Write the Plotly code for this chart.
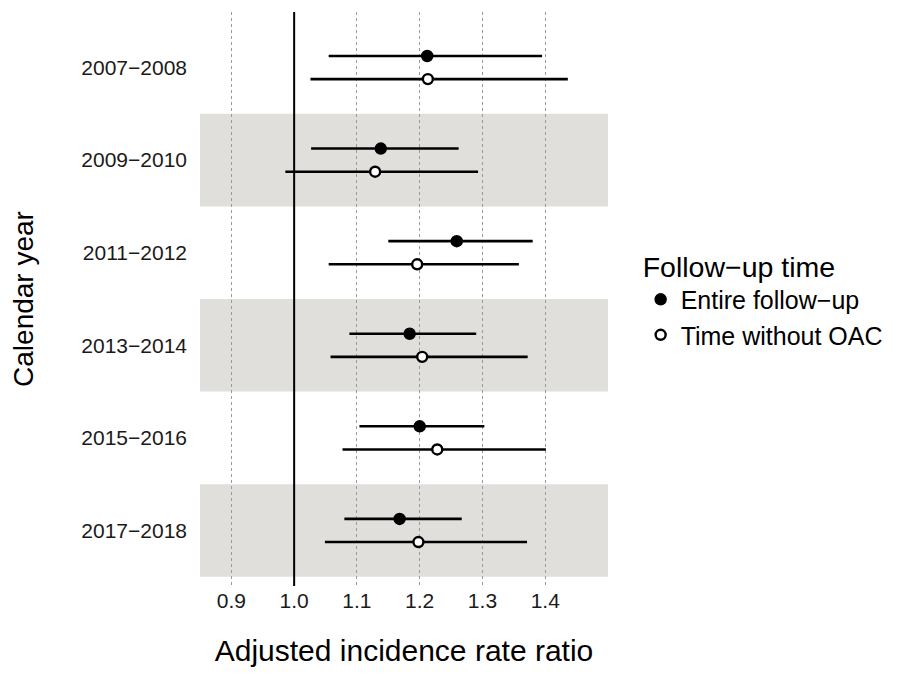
import plotly.graph_objects as go

categories = ["2007\u22122008", "2009\u22122010", "2011\u22122012",
              "2013\u22122014", "2015\u22122016", "2017\u22122018"]
series_names = ["Entire follow\u2212up", "Time without OAC"]

entire_est = [1.212, 1.138, 1.259, 1.184, 1.200, 1.168]
entire_lo = [1.055, 1.027, 1.150, 1.088, 1.104, 1.080]
entire_hi = [1.395, 1.262, 1.380, 1.290, 1.303, 1.267]

oac_est = [1.213, 1.129, 1.196, 1.204, 1.228, 1.198]
oac_lo = [1.026, 0.986, 1.055, 1.058, 1.077, 1.049]
oac_hi = [1.436, 1.293, 1.358, 1.372, 1.401, 1.371]

x_ticks = [0.9, 1.0, 1.1, 1.2, 1.3, 1.4]
x_tick_labels = ["0.9", "1.0", "1.1", "1.2", "1.3", "1.4"]
shaded_rows = ["2009\u22122010", "2013\u22122014", "2017\u22122018"]

FONT = "Liberation Sans, Arial, Helvetica, sans-serif"
n = len(categories)
ypos = [n - i for i in range(n)]
dodge = 0.125

fig = go.Figure()

fig.add_trace(go.Scatter(
    x=entire_est, y=[v + dodge for v in ypos], mode="markers",
    name=series_names[0],
    marker=dict(symbol="circle", size=11, color="black",
                line=dict(color="black", width=1.5)),
    error_x=dict(type="data", symmetric=False,
                 array=[h - e for h, e in zip(entire_hi, entire_est)],
                 arrayminus=[e - l for e, l in zip(entire_est, entire_lo)],
                 width=0, thickness=2.6, color="black"),
    text=categories, hovertemplate="%{text}: %{x}<extra></extra>",
))
fig.add_trace(go.Scatter(
    x=oac_est, y=[v - dodge for v in ypos], mode="markers",
    name=series_names[1],
    marker=dict(symbol="circle", size=10, color="white",
                line=dict(color="black", width=2.4)),
    error_x=dict(type="data", symmetric=False,
                 array=[h - e for h, e in zip(oac_hi, oac_est)],
                 arrayminus=[e - l for e, l in zip(oac_est, oac_lo)],
                 width=0, thickness=2.6, color="black"),
    text=categories, hovertemplate="%{text}: %{x}<extra></extra>",
))

shapes = []
for c in shaded_rows:
    yc = ypos[categories.index(c)]
    shapes.append(dict(type="rect", xref="x domain", yref="y",
                       x0=0, x1=1, y0=yc - 0.5, y1=yc + 0.5,
                       fillcolor="#e0dfdb", line=dict(width=0), layer="below"))
shapes.append(dict(type="line", xref="x", yref="y domain",
                   x0=1.0, x1=1.0, y0=0, y1=1,
                   line=dict(color="black", width=2), layer="above"))

# page body has an 8px margin, so the figure is sized to fit the 906x685 window
fig.update_layout(
    width=898, height=677,
    margin=dict(l=192, r=298, t=4, b=99),
    paper_bgcolor="white", plot_bgcolor="white",
    font=dict(family=FONT, color="#1a1a1a"),
    shapes=shapes,
    showlegend=True,
    legend=dict(
        title=dict(text="Follow\u2212up time", font=dict(size=28.5, color="black")),
        font=dict(size=25, color="black"),
        x=1.08, xanchor="left", y=0.5, yanchor="middle",
        bgcolor="rgba(0,0,0,0)", itemsizing="trace",
        tracegroupgap=0,
    ),
)

fig.update_xaxes(
    range=[0.85, 1.5], tickvals=x_ticks, ticktext=x_tick_labels,
    showgrid=True, gridcolor="#9a9a9a", gridwidth=0.8, griddash="3px,3px",
    zeroline=False, showline=False, ticks="", automargin=False,
    tickfont=dict(size=21, color="#1a1a1a"),
    title=dict(text="Adjusted incidence rate ratio", font=dict(size=30, color="black"),
               standoff=28),
)
fig.update_yaxes(
    range=[0.4, n + 0.6], tickvals=ypos, ticktext=categories,
    showgrid=False, zeroline=False, showline=False, ticks="", automargin=False,
    tickfont=dict(size=21, color="#1a1a1a"), ticklabelstandoff=12,
    title=dict(text="Calendar year", font=dict(size=28, color="black"),
               standoff=45),
)

fig.write_html("out.html")
